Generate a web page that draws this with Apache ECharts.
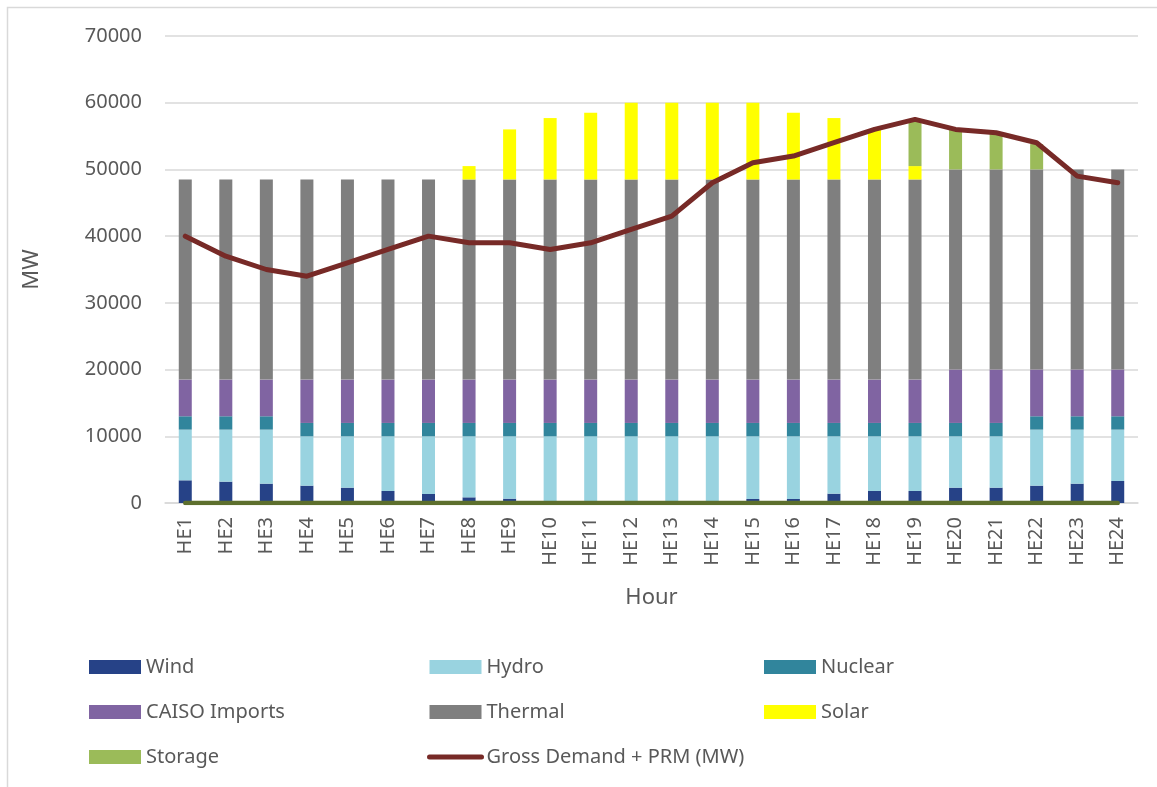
<!DOCTYPE html>
<html>
<head>
<meta charset="utf-8">
<script src="https://cdn.jsdelivr.net/npm/echarts@6/dist/echarts.min.js"></script>
<style>
  html, body { margin: 0; padding: 0; background: #fff; }
  #chart { width: 1157px; height: 787px; }
</style>
</head>
<body>
<div id="chart"></div>
<script>
const hours = ['HE1', 'HE2', 'HE3', 'HE4', 'HE5', 'HE6', 'HE7', 'HE8', 'HE9', 'HE10', 'HE11', 'HE12',
  'HE13', 'HE14', 'HE15', 'HE16', 'HE17', 'HE18', 'HE19', 'HE20', 'HE21', 'HE22', 'HE23', 'HE24'];

const wind = [3400, 3200, 2900, 2600, 2300, 1800, 1350, 850, 650, 0, 0, 0,
  0, 0, 600, 600, 1400, 1800, 1800, 2300, 2300, 2600, 2900, 3300];
const hydro = [7600, 7800, 8100, 7400, 7700, 8200, 8650, 9150, 9350, 10000, 10000, 10000,
  10000, 10000, 9400, 9400, 8600, 8200, 8200, 7700, 7700, 8400, 8100, 7700];
const nuclear = [2000, 2000, 2000, 2000, 2000, 2000, 2000, 2000, 2000, 2000, 2000, 2000,
  2000, 2000, 2000, 2000, 2000, 2000, 2000, 2000, 2000, 2000, 2000, 2000];
const caisoImports = [5500, 5500, 5500, 6500, 6500, 6500, 6500, 6500, 6500, 6500, 6500, 6500,
  6500, 6500, 6500, 6500, 6500, 6500, 6500, 8000, 8000, 7000, 7000, 7000];
const thermal = [30000, 30000, 30000, 30000, 30000, 30000, 30000, 30000, 30000, 30000, 30000, 30000,
  30000, 30000, 30000, 30000, 30000, 30000, 30000, 30000, 30000, 30000, 30000, 30000];
const solar = [0, 0, 0, 0, 0, 0, 0, 2000, 7500, 9200, 10000, 11500,
  11500, 11500, 11500, 10000, 9200, 7500, 2000, 0, 0, 0, 0, 0];
const storage = [0, 0, 0, 0, 0, 0, 0, 0, 0, 0, 0, 0,
  0, 0, 0, 0, 0, 0, 7000, 6000, 5500, 3800, 0, 0];
const storageCharge = [0, 0, 0, 0, 0, 0, 0, 0, 0, 0, 0, 0,
  0, 0, 0, 0, 0, 0, 0, 0, 0, 0, 0, 0];
const grossDemand = [40000, 37000, 35000, 34000, 36000, 38000, 40000, 39000, 39000, 38000, 39000, 41000,
  43000, 48000, 51000, 52000, 54000, 56000, 57500, 56000, 55500, 54000, 49000, 48000];

const FONT = '"Noto Sans", sans-serif';
const GREY = '#595959';

const chart = echarts.init(document.getElementById('chart'), null, { renderer: 'canvas' });

function bar(name, data, color) {
  return {
    name,
    type: 'bar',
    stack: 'supply',
    data,
    barWidth: 13,
    itemStyle: { color },
  };
}

const legendBase = {
  orient: 'vertical',
  top: 657,
  padding: 0,
  itemWidth: 52,
  itemHeight: 14,
  itemGap: 25,
  textStyle: { fontFamily: FONT, fontSize: 20, color: GREY, lineHeight: 20 },
};
const box = (name) => ({ name, icon: 'rect' });

chart.setOption({
  animation: false,
  backgroundColor: '#fff',
  textStyle: { fontFamily: FONT },
  graphic: [
    {
      type: 'polyline',
      shape: { points: [[7.5, 800], [7.5, 7.5], [1157, 7.5]] },
      style: { stroke: '#d9d9d9', lineWidth: 1.5, fill: null },
      silent: true,
    },
  ],
  grid: { left: 165, right: 19, top: 36, bottom: 284 },
  legend: [
    Object.assign({}, legendBase, { left: 89, data: [box('Wind'), box('CAISO Imports'), box('Storage')] }),
    Object.assign({}, legendBase, {
      left: 427,
      data: [
        box('Hydro'),
        box('Thermal'),
        {
          name: 'Gross Demand + PRM (MW)',
          lineStyle: { width: 5, cap: 'round' },
          itemStyle: { opacity: 0 },
        },
      ],
    }),
    Object.assign({}, legendBase, { left: 764, data: [box('Nuclear'), box('Solar')] }),
  ],
  xAxis: {
    type: 'category',
    data: hours,
    name: 'Hour',
    nameLocation: 'middle',
    nameGap: 84,
    nameTextStyle: { fontFamily: FONT, fontSize: 22, color: GREY },
    axisLine: { lineStyle: { color: '#d9d9d9', width: 1.5 } },
    axisTick: { show: false },
    axisLabel: { rotate: 90, margin: 14, fontFamily: FONT, fontSize: 20, color: GREY, interval: 0 },
  },
  yAxis: {
    type: 'value',
    min: 0,
    max: 70000,
    interval: 10000,
    name: 'MW',
    nameLocation: 'middle',
    nameGap: 122,
    nameTextStyle: { fontFamily: FONT, fontSize: 22, color: GREY },
    axisLine: { show: false },
    axisTick: { show: false },
    axisLabel: { margin: 23, fontFamily: FONT, fontSize: 20, color: GREY, formatter: (v) => String(v) },
    splitLine: { lineStyle: { color: '#d9d9d9', width: 1.5 } },
  },
  series: [
    bar('Wind', wind, '#264287'),
    bar('Hydro', hydro, '#99d3e0'),
    bar('Nuclear', nuclear, '#31859c'),
    bar('CAISO Imports', caisoImports, '#8064a2'),
    bar('Thermal', thermal, '#7f7f7f'),
    bar('Solar', solar, '#ffff00'),
    bar('Storage', storage, '#9bbb59'),
    {
      name: 'Storage charging',
      type: 'line',
      data: storageCharge,
      symbol: 'none',
      lineStyle: { color: '#5d6f2d', width: 4.5, cap: 'round' },
      itemStyle: { color: '#5d6f2d' },
      z: 3,
    },
    {
      name: 'Gross Demand + PRM (MW)',
      type: 'line',
      data: grossDemand,
      symbol: 'none',
      lineStyle: { color: '#772a27', width: 5, cap: 'round', join: 'round' },
      itemStyle: { color: '#772a27' },
      z: 4,
    },
  ],
});
</script>
</body>
</html>
